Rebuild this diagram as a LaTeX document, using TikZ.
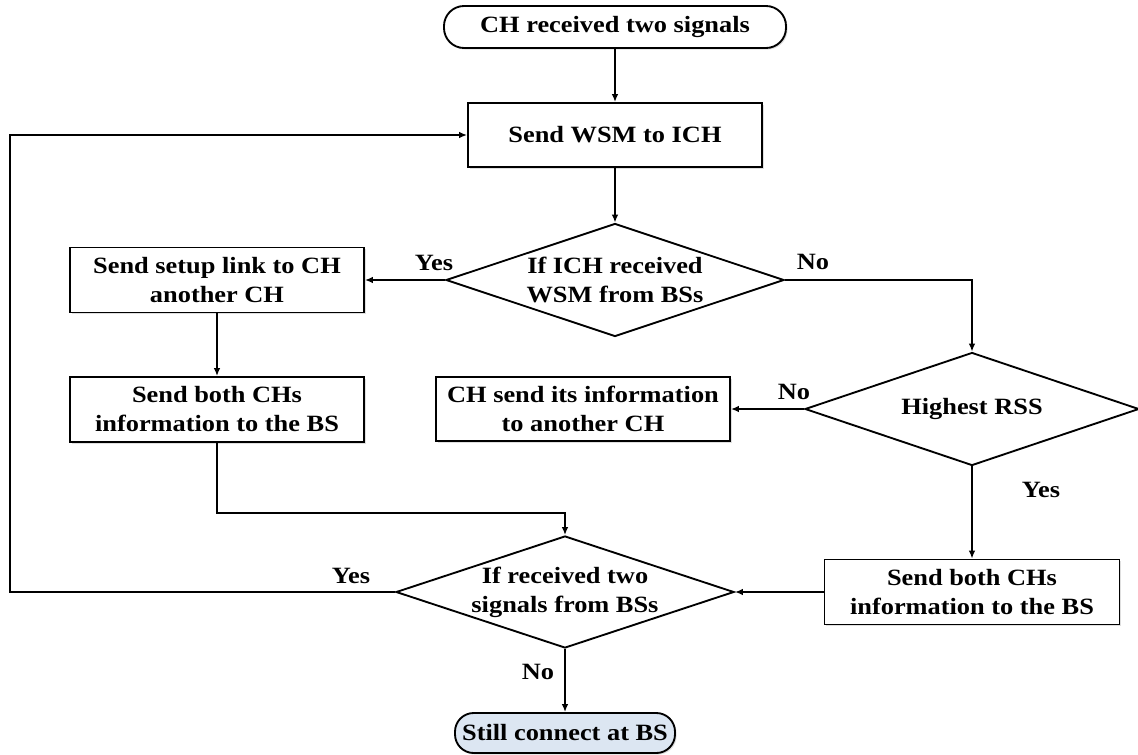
\documentclass[tikz,border=0pt]{standalone}
\usepackage{fontspec}
\setmainfont{Liberation Serif}[FakeStretch=1.13]
\usetikzlibrary{shapes.geometric,arrows.meta,shadows}

\tikzset{
  base/.style={draw=black, line width=1.4pt, align=center, inner sep=0pt,
    font=\fontsize{17.5}{21.75}\selectfont\bfseries},
  procbox/.style={base, rectangle, fill=white,
    drop shadow={shadow xshift=1.2pt, shadow yshift=-1.2pt, opacity=0.25}},
  pill/.style={base, rectangle, rounded corners=15pt,
    drop shadow={shadow xshift=1.2pt, shadow yshift=-1.2pt, opacity=0.25}},
  dia/.style={draw=black, line width=1.4pt, diamond, aspect=3, inner sep=0pt},
  dtext/.style={align=center, inner sep=0pt, font=\fontsize{17.5}{21.75}\selectfont\bfseries},
  lbl/.style={inner sep=0pt, font=\fontsize{17.5}{21.75}\selectfont\bfseries},
  flow/.style={line width=1.2pt, -{Latex[length=6pt,width=5pt]}},
}

\begin{document}
\begin{tikzpicture}[x=0.75pt, y=-0.75pt]
  \useasboundingbox (0,0) rectangle (1138,754);

  % terminals and process boxes
  \node[pill, fill=white, minimum width=256.5pt, minimum height=31.5pt] (start) at (615,27) {CH received two signals};
  \node[procbox, minimum width=220.5pt, minimum height=48pt] (wsm) at (615,135) {Send WSM to ICH};
  \node[procbox, minimum width=220.5pt, minimum height=48.75pt] (setup) at (217,280) {Send setup link to CH\\another CH};
  \node[procbox, minimum width=220.5pt, minimum height=48.75pt] (bothL) at (217,409.5) {Send both CHs\\information to the BS};
  \node[procbox, minimum width=220.5pt, minimum height=48pt] (chsend) at (583,409) {CH send its information\\to another CH};
  \node[procbox, minimum width=221.25pt, minimum height=48.75pt] (bothR) at (972,592) {Send both CHs\\information to the BS};
  \node[pill, fill={rgb,255:red,220;green,230;blue,242}, minimum width=165pt, minimum height=30pt, rounded corners=14pt] (stop) at (565,733) {Still connect at BS};

  % decisions
  \node[dia, minimum width=253.5pt, minimum height=84.75pt] (d1) at (615,280) {};
  \node[dtext] at (d1) {If ICH received\\WSM from BSs};
  \node[dia, minimum width=250.5pt, minimum height=84.75pt] (d2) at (972,409) {};
  \node[dtext] at (d2) {Highest RSS};
  \node[dia, minimum width=253.5pt, minimum height=84pt] (d3) at (565,592) {};
  \node[dtext] at (d3) {If received two\\signals from BSs};

  % bend points
  \coordinate (c1) at (972,280);
  \coordinate (c2) at (217,513);
  \coordinate (c3) at (565,513);
  \coordinate (c4) at (10,592);
  \coordinate (c5) at (10,135);

  % connectors
  \draw[flow] (start.south) -- (wsm.north);
  \draw[flow] (wsm.south) -- (d1.north);
  \draw[flow] (d1.west) -- (setup.east);
  \draw[flow] (d1.east) -- (c1) -- (d2.north);
  \draw[flow] (setup.south) -- (bothL.north);
  \draw[flow] (d2.west) -- (chsend.east);
  \draw[flow] (d2.south) -- (bothR.north);
  \draw[flow] (bothL.south) -- (c2) -- (c3) -- (d3.north);
  \draw[flow] (bothR.west) -- (d3.east);
  \draw[flow] (d3.west) -- (c4) -- (c5) -- (wsm.west);
  \draw[flow] (d3.south) -- (stop.north);

  % branch labels
  \node[lbl] (y1) at (434,263) {Yes};
  \node[lbl] (n1) at (813,262) {No};
  \node[lbl] (n2) at (794,392) {No};
  \node[lbl] (y2) at (1041,490) {Yes};
  \node[lbl] (y3) at (351,576) {Yes};
  \node[lbl] (n3) at (538,672) {No};
\end{tikzpicture}
\end{document}
